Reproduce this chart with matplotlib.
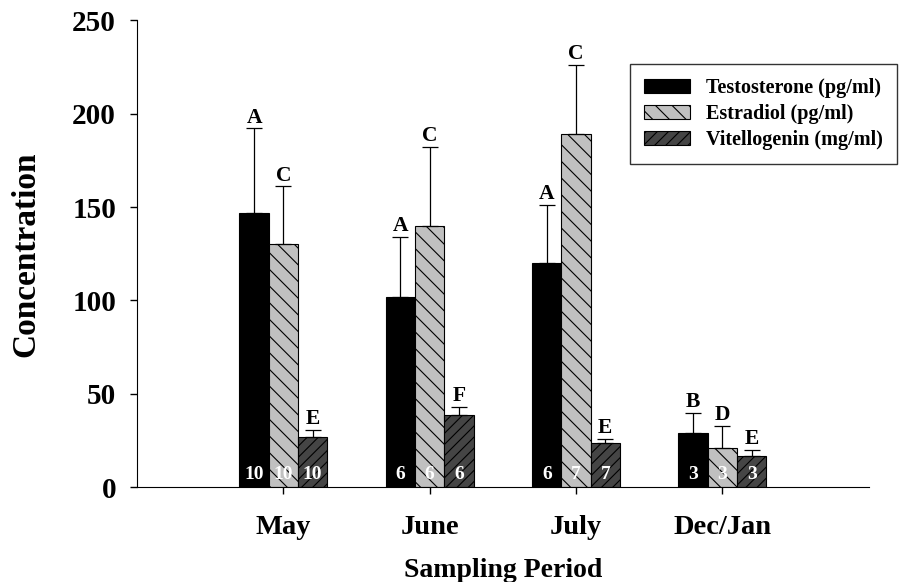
import matplotlib
matplotlib.use("Agg")
import matplotlib.pyplot as plt
import numpy as np

# values
periods = ["May", "June", "July", "Dec/Jan"]
series = ["Testosterone (pg/ml)", "Estradiol (pg/ml)", "Vitellogenin (mg/ml)"]
testosterone = [147, 102, 120, 29]
estradiol = [130, 140, 189, 21]
vitellogenin = [27, 39, 24, 17]
testosterone_err = [45, 32, 31, 11]
estradiol_err = [31, 42, 37, 12]
vitellogenin_err = [4, 4, 2, 3]
letters = [["A", "A", "A", "B"], ["C", "C", "C", "D"], ["E", "F", "E", "E"]]
n_counts = [["10", "6", "6", "3"], ["10", "6", "7", "3"], ["10", "6", "7", "3"]]

plt.rcParams["font.family"] = ["Liberation Serif", "DejaVu Serif"]
plt.rcParams["font.weight"] = "bold"
plt.rcParams["hatch.linewidth"] = 0.8

fills = ["black", "#c0c0c0", "#454545"]
hatches = [None, "\\\\", "///"]
values = [testosterone, estradiol, vitellogenin]
errors = [testosterone_err, estradiol_err, vitellogenin_err]

fig = plt.figure(figsize=(9.04, 5.82), dpi=100)
ax = fig.add_axes([0.1515, 0.1624, 0.8095, 0.8032])

x = np.arange(len(periods))
width = 0.2
for i in range(3):
    xs = x + (i - 1) * width
    ax.bar(xs, values[i], width, color=fills[i], edgecolor="black",
           linewidth=0.8, hatch=hatches[i], label=series[i], zorder=2)
    ax.errorbar(xs, values[i], yerr=[np.zeros(4), errors[i]], fmt="none",
                ecolor="black", elinewidth=0.9, capsize=5.5, capthick=0.9,
                zorder=3)
    for j in range(4):
        top = values[i][j] + errors[i][j]
        ax.annotate(letters[i][j], (xs[j], top), xytext=(0, 0.5),
                    textcoords="offset points", ha="center", va="bottom",
                    fontsize=15.5, fontweight="bold")
        ax.annotate(n_counts[i][j], (xs[j], 0), xytext=(0, 3),
                    textcoords="offset points", ha="center", va="bottom",
                    fontsize=14, fontweight="bold", color="white", zorder=4)

ax.set_xlim(-1, 4)
ax.set_ylim(0, 250)
ax.set_yticks([0, 50, 100, 150, 200, 250])
ax.set_xticks(x)
ax.set_xticklabels(periods)
ax.spines["top"].set_visible(False)
ax.spines["right"].set_visible(False)
ax.spines["left"].set_bounds(0, 250)
ax.tick_params(axis="y", direction="out", length=5, width=1, pad=10, labelsize=21)
ax.tick_params(axis="x", direction="out", length=5, width=1, pad=15, labelsize=20.5)
for lab in ax.get_xticklabels() + ax.get_yticklabels():
    lab.set_fontweight("bold")

ax.set_ylabel("Concentration", fontsize=24, fontweight="bold", labelpad=22)
ax.set_xlabel("Sampling Period", fontsize=20, fontweight="bold", labelpad=13)

leg = ax.legend(loc="upper right", bbox_to_anchor=(1.038, 0.906), fontsize=14.5,
                frameon=True, fancybox=False, edgecolor="black",
                handlelength=2.3, handleheight=0.7, borderpad=0.7,
                labelspacing=0.3, handletextpad=0.75, borderaxespad=0)
leg.get_frame().set_linewidth(1.0)
for t in leg.get_texts():
    t.set_fontweight("bold")

fig.savefig("out.png", dpi=100)
